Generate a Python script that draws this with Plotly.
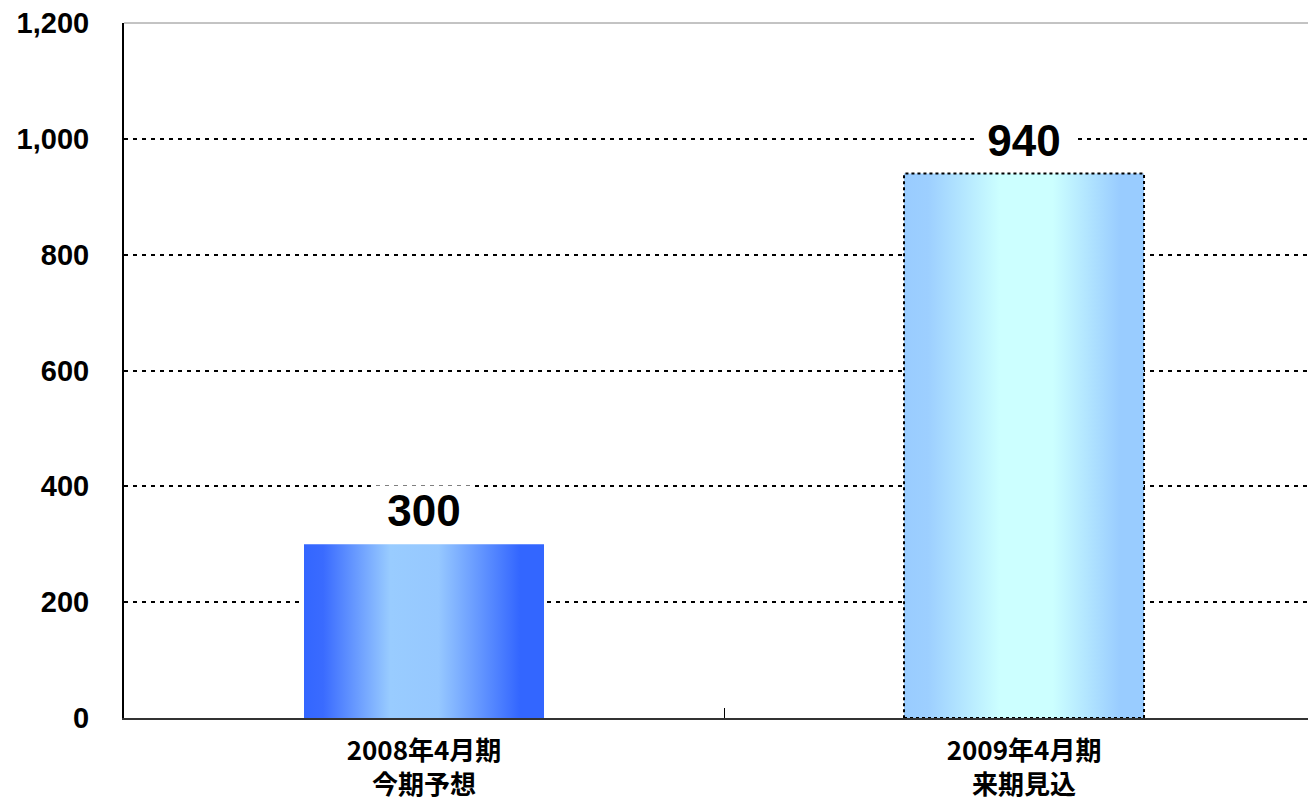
import plotly.graph_objects as go

# ---- data ----
categories = ["2008年4月期<br>今期予想", "2009年4月期<br>来期見込"]
values = [300, 940]
value_labels = ["300", "940"]
y_ticks = [0, 200, 400, 600, 800, 1000, 1200]

# ---- style ----
bar_half = 0.2
gradients = [
    [[0, "#3366FF"], [0.08, "#3A6BFF"], [0.36, "#99CCFF"], [0.56, "#96C8FF"], [0.9, "#3366FF"], [1, "#3366FF"]],
    [[0, "#99CCFF"], [0.1, "#9DCFFF"], [0.4, "#CCFFFF"], [0.62, "#CCFFFF"], [0.9, "#99CCFF"], [1, "#99CCFF"]],
]
borders = [dict(width=0), dict(color="black", width=2, dash="3px,3px")]

fig = go.Figure()
for i, (v, cs, bd) in enumerate(zip(values, gradients, borders)):
    xs = [i - bar_half, i + bar_half, i + bar_half, i - bar_half, i - bar_half]
    ys = [0, 0, v, v, 0]
    fig.add_trace(go.Scatter(
        x=xs, y=ys, mode="lines", fill="toself",
        fillgradient=dict(type="horizontal", colorscale=cs),
        line=bd, showlegend=False, hoverinfo="skip",
    ))
    fig.add_annotation(
        x=i, y=v, xref="x", yref="y", text=value_labels[i], showarrow=False,
        yanchor="bottom", yshift=8, bgcolor="white", width=98, borderpad=0,
        font=dict(family="Liberation Sans, Arial", size=44, color="black", weight="bold"),
    )

fig.update_xaxes(
    range=[-0.5, 1.4733], tickvals=[0, 1], ticktext=categories, automargin=False,
    showgrid=False, zeroline=False, showline=True, linecolor="#333333", linewidth=2,
    ticks="", ticklabelstandoff=9,
    tickfont=dict(family="Noto Sans CJK JP", size=26, color="black", weight="bold"),
    minor=dict(tickvals=[0.5], ticks="inside", ticklen=10, tickcolor="black", tickwidth=1),
)
fig.update_yaxes(
    range=[0, 1200], tickvals=y_ticks, tickformat=",d", automargin=False,
    showgrid=True, gridcolor="black", gridwidth=2, griddash="4px,5px",
    zeroline=False, showline=True, linecolor="black", linewidth=2,
    ticks="outside", ticklen=27, tickcolor="rgba(0,0,0,0)",
    tickfont=dict(family="Liberation Sans, Arial", size=29, color="black", weight="bold"),
)
fig.add_shape(type="line", xref="paper", yref="paper", x0=0, x1=1, y0=1, y1=1,
              line=dict(color="#888888", width=1), layer="below")

fig.update_layout(
    width=1308, height=808,
    margin=dict(l=124, r=0, t=23, b=90),
    paper_bgcolor="white", plot_bgcolor="white",
    showlegend=False,
)

fig.write_html("out.html")
